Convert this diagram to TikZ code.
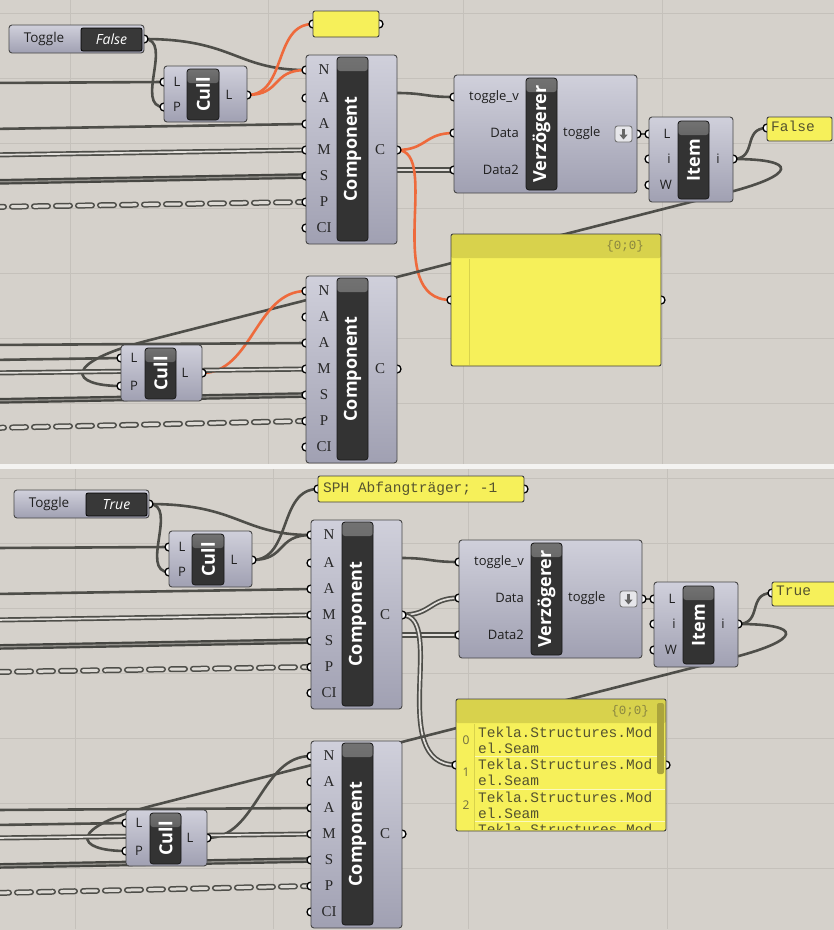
\documentclass[tikz,border=0pt]{standalone}
\usepackage{fontspec}
\setmainfont{Open Sans}
\newfontfamily\gsf{Open Sans}
\newfontfamily\gserif{Liberation Serif}
\newfontfamily\gmono{Liberation Mono}
\usetikzlibrary{arrows.meta,fit}

\definecolor{bg}{HTML}{D5D1CB}
\definecolor{gridc}{HTML}{C5C1BB}
\definecolor{sepc}{HTML}{F4F3F1}
\definecolor{bodyT}{HTML}{D0D0DB}
\definecolor{bodyB}{HTML}{A0A0B2}
\definecolor{bandc}{HTML}{333333}
\definecolor{bandhi}{HTML}{727272}
\definecolor{wirec}{HTML}{4E4E49}
\definecolor{selc}{HTML}{EE6A3C}
\definecolor{panely}{HTML}{F6F05A}
\definecolor{panelh}{HTML}{D8D24C}
\definecolor{ptext}{HTML}{55532F}
\definecolor{htextc}{HTML}{8A8640}
\definecolor{idxc}{HTML}{6E6C40}
\definecolor{scrollc}{HTML}{ABA43C}
\definecolor{valc}{HTML}{383838}
\definecolor{iconc}{HTML}{E6E6EA}

\tikzset{
 gridl/.style={draw=gridc, line width=0.8pt},
 body/.style={draw=black!72, line width=0.9pt, rounded corners=3pt, top color=bodyT, bottom color=bodyB, inner sep=0pt},
 bandbox/.style={draw=black!90, line width=0.8pt, fill=bandc, rounded corners=3pt, inner sep=0pt,
   path picture={\fill[top color=bandhi, bottom color=bandc] (path picture bounding box.north west) rectangle ([yshift=-14pt]path picture bounding box.north east);}},
 valbox/.style={draw=black, line width=0.8pt, fill=valc, rounded corners=2pt, inner sep=0pt},
 iconbox/.style={draw=black!55, line width=0.9pt, fill=iconc, rounded corners=2.5pt, inner sep=0pt},
 ypanel/.style={draw=black!75, line width=0.9pt, fill=panely, rounded corners=2pt, inner sep=0pt},
 bigpanel/.style={ypanel, path picture={\fill[panelh] (path picture bounding box.north west) rectangle ([yshift=-24pt]path picture bounding box.north east);}},
 scrollst/.style={fill=scrollc, draw=none, rounded corners=2pt, inner sep=0pt},
 port/.style={circle, draw=black, fill=white, line width=1.3pt, minimum size=8pt, inner sep=0pt},
 wire/.style={draw=wirec, line width=2.6pt},
 selw/.style={draw=selc, line width=2.6pt},
 listw/.style={draw=wirec, line width=1.7pt, double=bg!70!white, double distance=1.7pt},
 listh/.style={draw=wirec!90!black, line width=2.2pt, double=bg!50!wirec, double distance=1.3pt},
 treew/.style={draw=wirec, line width=1.5pt, double=bg!80!white, double distance=3pt, line cap=round, dash pattern=on 14pt off 8pt},
 lbl/.style={inner sep=0pt, text=black!88, font=\gsf\fontsize{13}{13}\selectfont},
 plbl/.style={inner sep=0pt, text=black!85, font=\gserif\fontsize{15}{15}\selectfont},
 bandtxt/.style={inner sep=0pt, rotate=90, text=white, font=\gsf\bfseries\fontsize{18}{18}\selectfont},
 togtxt/.style={inner sep=0pt, text=white, font=\gsf\itshape\fontsize{14}{14}\selectfont},
 ptxt/.style={inner sep=0pt, anchor=west, text=ptext, font=\gmono\fontsize{14.5}{16}\selectfont, align=left},
 htxt/.style={inner sep=0pt, anchor=east, text=htextc, font=\gmono\fontsize{12.5}{12.5}\selectfont},
 idx/.style={inner sep=0pt, text=idxc, font=\gsf\fontsize{12}{12}\selectfont},
 idxl/.style={draw=panelh, line width=0.8pt},
 rowl/.style={draw=white!60!panely, line width=1pt},
}

\newcommand\gbox[4]{\node[fit={#3 #4}, inner sep=0pt, #2] (#1) {};}

% #1 prefix, #2 toggle value, #3 selected wire style, #4 C-output wire style,
% #5 item panel text, #6 small panel right x, #7 small panel text
\newcommand\ghscene[7]{%
 \foreach \gx in {70,268,463,662} {\draw[gridl] (\gx,0) -- (\gx,464);}
 \foreach \gy in {13,78,143,208,273,338,403} {\draw[gridl] (-10,\gy) -- (840,\gy);}
 % ports / anchors
 \coordinate (#1tout) at (144,39);
 \coordinate (#1c1L) at (164,82);
 \coordinate (#1c1P) at (164,107);
 \coordinate (#1c1o) at (247,95);
 \coordinate (#1spL) at (313,24);
 \coordinate (#1spR) at (#6,24);
 \coordinate (#1aN) at (306,70);
 \coordinate (#1aA1) at (306,98);
 \coordinate (#1aA2) at (306,124);
 \coordinate (#1aM) at (306,150);
 \coordinate (#1aS) at (306,176);
 \coordinate (#1aP) at (306,202);
 \coordinate (#1aCI) at (306,228);
 \coordinate (#1aC) at (397,150);
 \coordinate (#1aR1) at (396,93);
 \coordinate (#1aR2) at (396,170);
 \coordinate (#1vT) at (454,97);
 \coordinate (#1vD) at (454,133);
 \coordinate (#1vD2) at (454,170);
 \coordinate (#1vo) at (637,134);
 \coordinate (#1iL) at (649,134);
 \coordinate (#1ii) at (649,159);
 \coordinate (#1iW) at (649,185);
 \coordinate (#1io) at (733,159);
 \coordinate (#1ipL) at (767,128);
 \coordinate (#1bpL) at (451,300);
 \coordinate (#1bpR) at (661,300);
 \coordinate (#1bN) at (306,291);
 \coordinate (#1bA1) at (306,317);
 \coordinate (#1bA2) at (306,343);
 \coordinate (#1bM) at (306,369);
 \coordinate (#1bS) at (306,395);
 \coordinate (#1bP) at (306,421);
 \coordinate (#1bCI) at (306,447);
 \coordinate (#1bC) at (397,369);
 \coordinate (#1c2L) at (121,358);
 \coordinate (#1c2P) at (121,386);
 \coordinate (#1c2o) at (202,373);
 \coordinate (#1w1) at (-10,83);
 \coordinate (#1w2) at (-10,129);
 \coordinate (#1w3) at (-10,155);
 \coordinate (#1w4) at (-10,182);
 \coordinate (#1w5) at (-10,207);
 \coordinate (#1w6) at (-10,345);
 \coordinate (#1w7) at (-10,360);
 \coordinate (#1w8) at (-10,373);
 \coordinate (#1w9) at (-10,401);
 \coordinate (#1w10) at (-10,428);
 \coordinate (#1k1) at (730,192);
 \coordinate (#1k2) at (150,340);
 % wires
 \draw[wire] (#1w1) -- (#1c1L);
 \draw[wire] (#1tout) .. controls +(30,0) and +(-30,0) .. (#1c1P);
 \draw[wire] (#1tout) .. controls +(90,0) and +(-70,0) .. (#1aN);
 \draw[#3] (#1c1o) .. controls +(40,0) and +(-40,0) .. (#1spL);
 \draw[#3] (#1c1o) .. controls +(35,0) and +(-35,0) .. (#1aN);
 \draw[wire] (#1w2) -- (#1aA2);
 \draw[listw] (#1w3) -- (#1aM);
 \draw[listh] (#1w4) -- (#1aS);
 \draw[treew] (#1w5) -- (#1aP);
 \draw[wire] (#1aR1) .. controls +(30,0) and +(-30,0) .. (#1vT);
 \draw[listw] (#1aR2) -- (#1vD2);
 \draw[#4] (#1aC) .. controls +(30,0) and +(-30,0) .. (#1vD);
 \draw[#4] (#1aC) .. controls +(45,0) and +(-70,0) .. (#1bpL);
 \draw[wire] (#1vo) -- (#1iL);
 \draw[wire] (#1io) .. controls +(25,0) and +(-25,0) .. (#1ipL);
 \draw[wire] (#1io) .. controls +(67,0) and (795,175) .. (#1k1) -- (#1k2) .. controls (60,363) and +(-51,0) .. (#1c2P);
 \draw[#3] (#1c2o) .. controls +(50,0) and +(-50,0) .. (#1bN);
 \draw[wire] (#1w6) -- (#1bA2);
 \draw[wire] (#1w7) -- (#1c2L);
 \draw[listw] (#1w8) -- (#1bM);
 \draw[listh] (#1w9) -- (#1bS);
 \draw[treew] (#1w10) -- (#1bP);
 % port circles
 \foreach \q in {tout,c1L,c1P,c1o,spL,spR,aN,aA1,aA2,aM,aS,aP,aCI,aC,vT,vD,vD2,vo,iL,ii,iW,io,ipL,bpL,bpR,bN,bA1,bA2,bM,bS,bP,bCI,bC,c2L,c2P,c2o}
   {\node[port] (#1\q p) at (#1\q) {};}
 % toggle
 \gbox{#1tog}{body}{(9,25)}{(144,53)}
 \node[lbl, font=\gsf\fontsize{13.5}{13.5}\selectfont] (#1togl) at (44,39) {Toggle};
 \gbox{#1togv}{valbox}{(81,28)}{(142,51)}
 \node[togtxt] (#1togt) at (#1togv.center) {#2};
 % cull 1
 \gbox{#1cull}{body}{(164,66)}{(247,122)}
 \gbox{#1cullb}{bandbox}{(187,69)}{(219,120)}
 \node[bandtxt] (#1cullt) at (#1cullb.center) {Cull};
 \node[lbl] (#1cullL) at (177,82) {L};
 \node[lbl] (#1cullP) at (177,107) {P};
 \node[lbl] (#1cullO) at (229,95) {L};
 % small panel
 \gbox{#1sp}{ypanel}{(313,11)}{(#6,37)}
 \node[ptxt] (#1spt) at (318,24) {#7};
 % component 1
 \gbox{#1ca}{body}{(306,55)}{(397,244)}
 \gbox{#1cab}{bandbox}{(337,57)}{(368,241)}
 \node[bandtxt] (#1cat) at (#1cab.center) {Component};
 \foreach \t/\yy [count=\i] in {N/70,A/98,A/124,M/150,S/176,P/202,CI/228}
   {\node[plbl] (#1al\i) at (324,\yy) {\t};}
 \node[plbl] (#1alC) at (380,150) {C};
 % Verzoegerer
 \gbox{#1vz}{body}{(454,75)}{(637,193)}
 \gbox{#1vzb}{bandbox}{(526,78)}{(557,190)}
 \node[bandtxt] (#1vzt) at (#1vzb.center) {Verzögerer};
 \node[lbl, anchor=east] (#1vzl1) at (519,97) {toggle\_v};
 \node[lbl, anchor=east] (#1vzl2) at (519,133) {Data};
 \node[lbl, anchor=east] (#1vzl3) at (519,170) {Data2};
 \node[lbl, anchor=west] (#1vzo) at (563,133) {toggle};
 \gbox{#1icon}{iconbox}{(615,126)}{(632,142)}
 \draw[-{Triangle[length=5pt,width=8pt]}, line width=2.2pt, draw=black!60] ([yshift=5.5pt]#1icon.center) -- ([yshift=-5.5pt]#1icon.center);
 % Item
 \gbox{#1it}{body}{(649,117)}{(733,202)}
 \gbox{#1itb}{bandbox}{(678,121)}{(709,199)}
 \node[bandtxt] (#1itt) at (#1itb.center) {Item};
 \node[lbl] (#1itl1) at (667,134) {L};
 \node[lbl] (#1itl2) at (669,159) {i};
 \node[lbl] (#1itl3) at (666,185) {W};
 \node[lbl] (#1itlo) at (718,159) {i};
 % item panel
 \gbox{#1ip}{ypanel}{(767,117)}{(832,141)}
 \node[ptxt] (#1ipt) at (771,126) {#5};
 % big panel
 \gbox{#1bp}{bigpanel}{(451,234)}{(661,366)}
 \draw[idxl] (469,259) -- (469,365);
 \node[htxt] (#1bph) at (644,246) {\{0;0\}};
 % cull 2
 \gbox{#1cull2}{body}{(121,345)}{(202,401)}
 \gbox{#1cull2b}{bandbox}{(145,348)}{(176,399)}
 \node[bandtxt] (#1cull2t) at (#1cull2b.center) {Cull};
 \node[lbl] (#1cull2L) at (134,358) {L};
 \node[lbl] (#1cull2P) at (134,386) {P};
 \node[lbl] (#1cull2O) at (185,373) {L};
 % component 2
 \gbox{#1cb}{body}{(306,276)}{(397,463)}
 \gbox{#1cbb}{bandbox}{(337,278)}{(368,460)}
 \node[bandtxt] (#1cbt) at (#1cbb.center) {Component};
 \foreach \t/\yy [count=\i] in {N/291,A/317,A/343,M/369,S/395,P/421,CI/447}
   {\node[plbl] (#1bl\i) at (324,\yy) {\t};}
 \node[plbl] (#1blC) at (380,369) {C};
}

\begin{document}
\begin{tikzpicture}[x=1pt,y=-1pt]
\useasboundingbox (0,0) rectangle (834,930);
\clip (0,0) rectangle (834,930);
\fill[bg] (0,0) rectangle (834,930);
\begin{scope}
\ghscene{a}{False}{selw}{selw}{False}{379}{}
\end{scope}
\begin{scope}[shift={(5,465)}]
\ghscene{b}{True}{wire}{listw}{True}{519}{SPH Abfangträger; -1}
\end{scope}
% content of the lower list panel
\begin{scope}
\clip (456,723) rectangle (665,829);
\draw[rowl] (475,756) -- (665,756);
\draw[rowl] (475,789) -- (665,789);
\draw[rowl] (475,821) -- (665,821);
\node[idx] (r0i) at (466,740) {0};
\node[idx] (r1i) at (466,772) {1};
\node[idx] (r2i) at (466,805) {2};
\node[ptxt] (r0t) at (478,740) {Tekla.Structures.Mod\\el.Seam};
\node[ptxt] (r1t) at (478,772) {Tekla.Structures.Mod\\el.Seam};
\node[ptxt] (r2t) at (478,805) {Tekla.Structures.Mod\\el.Seam};
\node[ptxt] (r3t) at (478,837) {Tekla.Structures.Mod\\el.Seam};
\end{scope}
\gbox{bscroll}{scrollst}{(657,703)}{(664,774)}
% separator between the two screenshots
\fill[sepc] (0,464) rectangle (834,468.5);
\end{tikzpicture}
\end{document}
